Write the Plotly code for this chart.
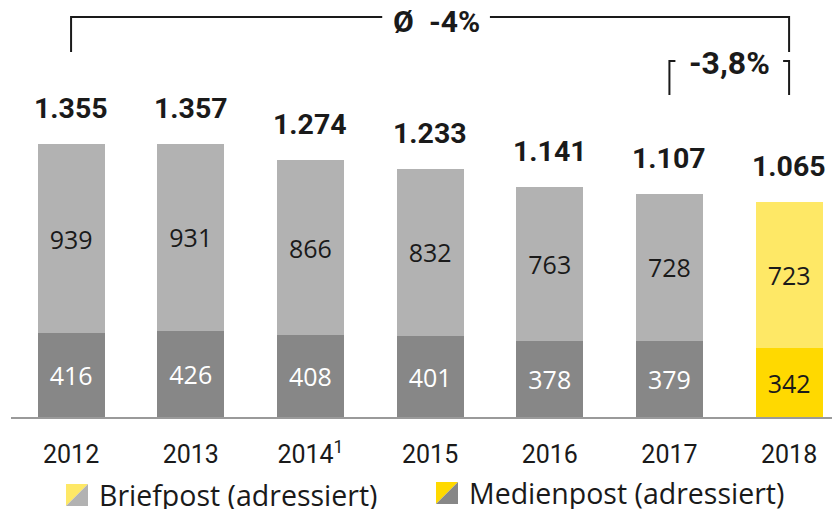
import plotly.graph_objects as go

years = ["2012", "2013", "2014", "2015", "2016", "2017", "2018"]
tick_labels = ["2012", "2013", "2014<sup>1</sup>", "2015", "2016", "2017", "2018"]
medienpost = [416, 426, 408, 401, 378, 379, 342]
briefpost = [939, 931, 866, 832, 763, 728, 723]
series_names = ["Briefpost (adressiert)", "Medienpost (adressiert)"]
avg_label = "Ø -4%"
yoy_label = "-3,8%"

FONT = "Roboto"
FONT2 = "Open Sans"
DARK = "#1a1a1a"
GREY_L, GREY_D = "#b2b2b2", "#878787"
YEL_L, YEL_D = "#fee866", "#ffd900"

xs = list(range(len(years)))
last = len(years) - 1
totals = [m + b for m, b in zip(medienpost, briefpost)]

# page body has an 8px margin; figure is sized to fit the window
OFF = 8
W, H = 840 - OFF, 509 - OFF
BASE = 417 - OFF          # baseline in figure pixels
ML, MT = 11 - OFF, 0
PW, PH = W - ML, BASE - MT
MB = H - BASE
YMAX = PH / 0.2015
X0 = -0.502
X1 = X0 + PW / 119.67


def yv(ry):  # reference-pixel y -> data value
    return (BASE - (ry - OFF)) / PH * YMAX


def px_x(rx):  # reference-pixel x -> paper
    return (rx - OFF - ML) / PW


def px_y(ry):  # reference-pixel y -> paper
    return (BASE - (ry - OFF)) / PH


def fmt(v):
    return f"{v:,}".replace(",", ".")


col_low = [GREY_D] * last + [YEL_D]
col_up = [GREY_L] * last + [YEL_L]
txtcol_low = ["white"] * last + [DARK]

fig = go.Figure()
fig.add_trace(go.Bar(
    x=xs, y=medienpost, name=series_names[1], marker=dict(color=col_low, line=dict(width=0)),
    text=[fmt(v) for v in medienpost], textposition="inside", insidetextanchor="middle",
    textfont=dict(family=FONT2, size=25, color=txtcol_low), constraintext="none",
    width=0.56, hoverinfo="skip"))
fig.add_trace(go.Bar(
    x=xs, y=briefpost, name=series_names[0], marker=dict(color=col_up, line=dict(width=0)),
    text=[fmt(v) for v in briefpost], textposition="inside", insidetextanchor="middle",
    textfont=dict(family=FONT2, size=25, color=DARK), constraintext="none",
    width=0.56, hoverinfo="skip"))

annotations = []
for x, t in zip(xs, totals):
    annotations.append(dict(x=x, y=t, text=f"<b>{fmt(t)}</b>", showarrow=False, xref="x", yref="y",
                            yanchor="bottom", yshift=17, font=dict(family=FONT, size=28.5, color=DARK)))

shapes = []
lw = dict(color=DARK, width=2)
# big bracket (average)
yt, yb = yv(17), yv(52)
mid = (xs[0] + xs[last]) / 2 + 0.05
gap = 0.45
shapes.append(dict(type="path", xref="x", yref="y", line=lw,
                   path=f"M {xs[0]},{yb} L {xs[0]},{yt} L {mid-gap},{yt}"))
shapes.append(dict(type="path", xref="x", yref="y", line=lw,
                   path=f"M {mid+gap},{yt} L {xs[last]},{yt} L {xs[last]},{yb}"))
annotations.append(dict(x=mid, y=yv(21), text="<b>" + avg_label.replace(" ", "\u2002") + "</b>",
                        showarrow=False, xref="x", yref="y",
                        font=dict(family=FONT, size=30, color=DARK)))
# small bracket (yoy)
yt2, yb2 = yv(61), yv(95)
mid2 = (xs[last - 1] + xs[last]) / 2
gap2 = 0.45
shapes.append(dict(type="path", xref="x", yref="y", line=lw,
                   path=f"M {xs[last-1]},{yb2} L {xs[last-1]},{yt2} L {mid2-gap2},{yt2}"))
shapes.append(dict(type="path", xref="x", yref="y", line=lw,
                   path=f"M {mid2+gap2},{yt2} L {xs[last]},{yt2} L {xs[last]},{yb2}"))
annotations.append(dict(x=mid2, y=yv(63), text=f"<b>{yoy_label}</b>", showarrow=False, xref="x", yref="y",
                        font=dict(family=FONT, size=32, color=DARK)))

# custom legend with diagonally split swatches (reference pixel coords)
legend_items = [
    (series_names[0], YEL_L, GREY_L, 66, 484, 97),
    (series_names[1], YEL_D, GREY_D, 436, 482, 467),
]
for name, c1, c2, lx, ty, tx in legend_items:
    s = 22
    L, R = px_x(lx), px_x(lx + s)
    T, B = px_y(ty), px_y(ty + s)
    shapes.append(dict(type="path", xref="paper", yref="paper", line=dict(width=0), fillcolor=c1,
                       path=f"M {L},{B} L {L},{T} L {R},{T} Z"))
    shapes.append(dict(type="path", xref="paper", yref="paper", line=dict(width=0), fillcolor=c2,
                       path=f"M {L},{B} L {R},{T} L {R},{B} Z"))
    annotations.append(dict(x=px_x(tx), y=px_y(ty + s / 2), xref="paper", yref="paper", text=name,
                            showarrow=False, xanchor="left", yanchor="middle",
                            font=dict(family=FONT2, size=28.5, color=DARK)))

fig.update_layout(
    barmode="stack", width=W, height=H, showlegend=False,
    margin=dict(l=ML, r=0, t=MT, b=MB),
    paper_bgcolor="white", plot_bgcolor="white",
    font=dict(family=FONT, color=DARK),
    xaxis=dict(range=[X0, X1], tickmode="array", tickvals=xs, ticktext=tick_labels,
               showgrid=False, zeroline=False, showline=True, linecolor="#9a9a9a", linewidth=2,
               ticks="", ticklabelstandoff=14, tickfont=dict(family=FONT, size=25, color=DARK)),
    yaxis=dict(range=[0, YMAX], visible=False, showgrid=False),
    shapes=shapes, annotations=annotations,
)
fig.write_html("out.html")
